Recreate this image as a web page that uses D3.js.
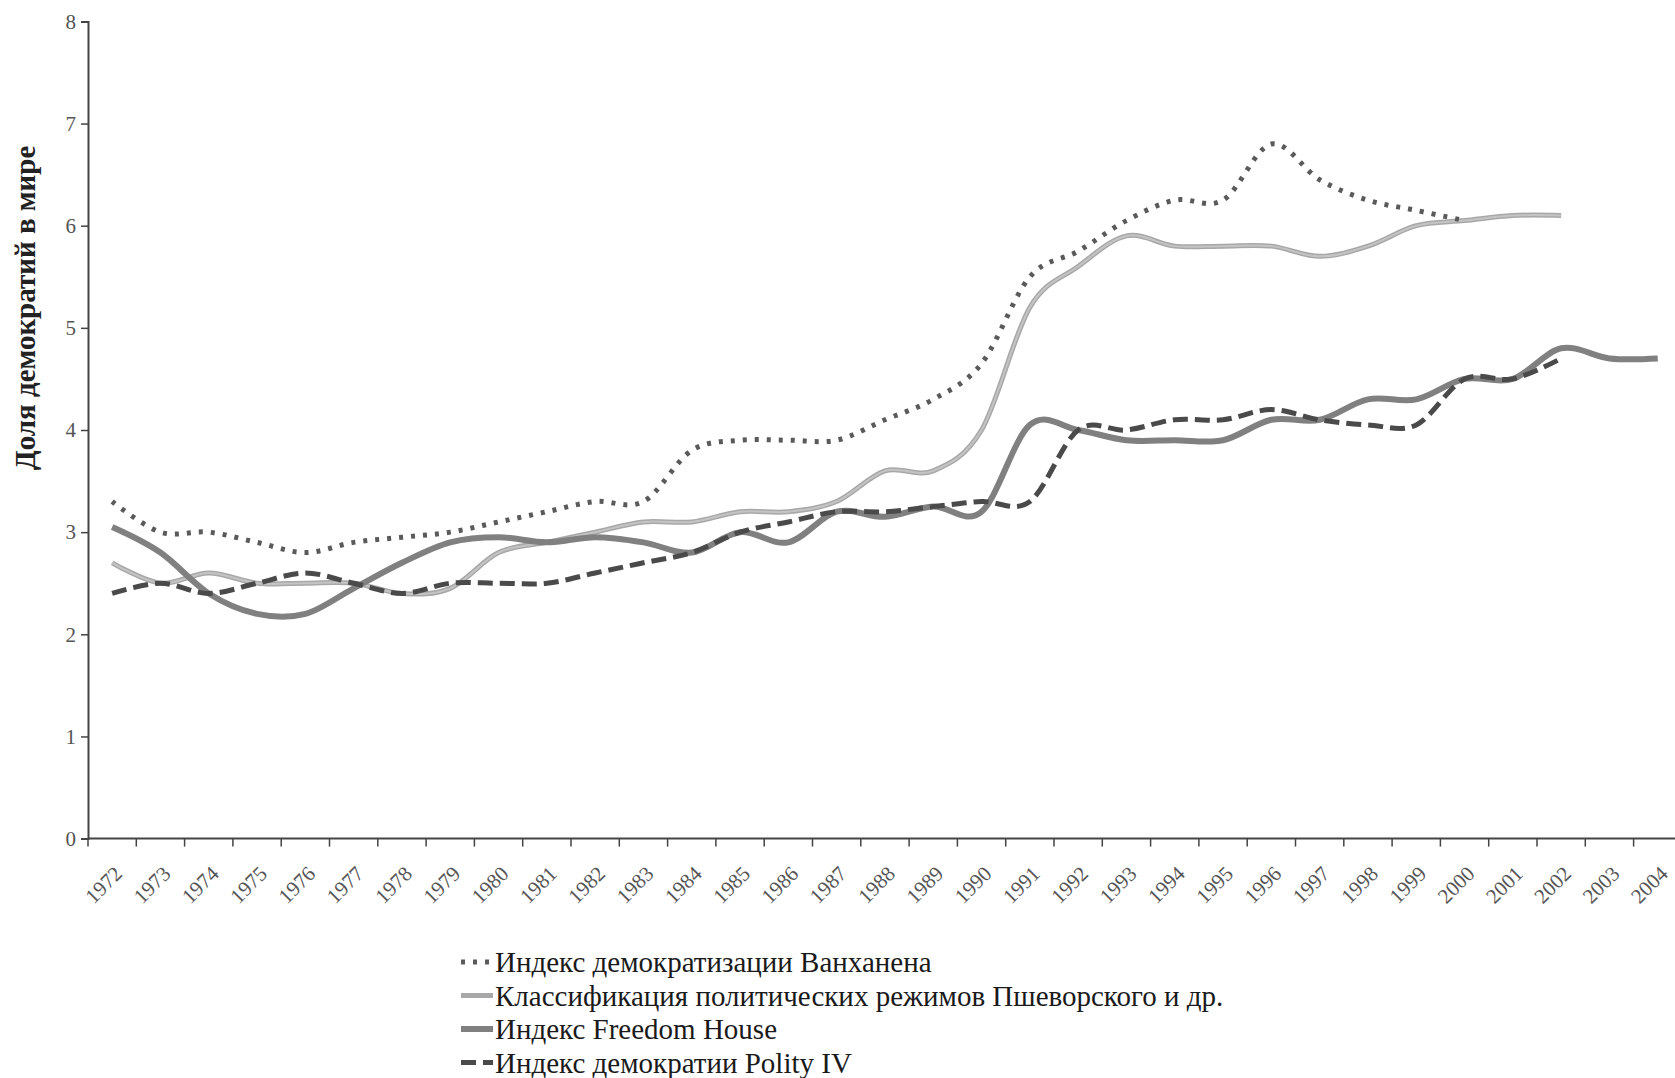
<!DOCTYPE html>
<html>
<head>
<meta charset="utf-8">
<script src="https://cdn.jsdelivr.net/npm/d3@7"></script>
<style>
  body { margin: 0; background: #fff; }
  text { font-family: "Liberation Serif", "DejaVu Serif", serif; }
</style>
</head>
<body>
<svg id="chart" width="1675" height="1078"></svg>
<script>
var years = d3.range(1972, 2005);

// values, one per year (null = no data)
var vanhanen = [3.3, 3.0, 3.0, 2.9, 2.8, 2.9, 2.95, 3.0, 3.1, 3.2, 3.3, 3.3, 3.8, 3.9, 3.9, 3.9,
                4.1, 4.3, 4.65, 5.5, 5.75, 6.05, 6.25, 6.25, 6.8, 6.45, 6.25, 6.15, 6.05];
var przeworski = [2.7, 2.5, 2.6, 2.5, 2.5, 2.5, 2.4, 2.45, 2.8, 2.9, 3.0, 3.1, 3.1, 3.2, 3.2, 3.3,
                  3.6, 3.6, 4.0, 5.2, 5.6, 5.9, 5.8, 5.8, 5.8, 5.7, 5.8, 6.0, 6.05, 6.1, 6.1];
var freedomHouse = [3.05, 2.8, 2.4, 2.2, 2.2, 2.45, 2.7, 2.9, 2.95, 2.9, 2.95, 2.9, 2.8, 3.0, 2.9, 3.2,
                    3.15, 3.25, 3.2, 4.05, 4.0, 3.9, 3.9, 3.9, 4.1, 4.1, 4.3, 4.3, 4.5, 4.5, 4.8, 4.7, 4.7];
var polity = [2.4, 2.5, 2.4, 2.5, 2.6, 2.5, 2.4, 2.5, 2.5, 2.5, 2.6, 2.7, 2.8, 3.0, 3.1, 3.2,
              3.2, 3.25, 3.3, 3.3, 4.0, 4.0, 4.1, 4.1, 4.2, 4.1, 4.05, 4.05, 4.5, 4.5, 4.7];

var yTicks = [0, 1, 2, 3, 4, 5, 6, 7, 8];
var yTitle = "Доля демократий в мире";

var series = [
  { name: "Индекс демократизации Ванханена", values: vanhanen, color: "#5a5a5a", width: 5, dash: "4,8" },
  { name: "Классификация политических режимов Пшеворского и др.", values: przeworski, color: "#a8a8a8", width: 5, dash: null, inner: "#c4c4c4" },
  { name: "Индекс Freedom House", values: freedomHouse, color: "#808080", width: 6, dash: null },
  { name: "Индекс демократии Polity IV", values: polity, color: "#4a4a4a", width: 5, dash: "15,7" }
];

var svg = d3.select("#chart");
svg.append("rect").attr("width", 1675).attr("height", 1078).attr("fill", "#fff");

var plotLeft = 88, plotBottom = 838.6, plotTop = 21.4;
var x = d3.scaleBand().domain(years).range([plotLeft, plotLeft + 33 * 48.3]);
var y = d3.scaleLinear().domain([0, 8]).range([plotBottom, plotTop]);

// y axis
var yAxis = svg.append("g")
    .attr("transform", "translate(" + plotLeft + ",0)")
    .call(d3.axisLeft(y).tickValues(yTicks).tickSize(7).tickPadding(5));
yAxis.select(".domain").attr("stroke", "#444").attr("stroke-width", 2);
yAxis.selectAll(".tick line").attr("stroke", "#444").attr("stroke-width", 1.5);
yAxis.selectAll(".tick text")
    .attr("fill", "#555")
    .style("font-size", "21px");

// x axis, ticks between categories
var xAxis = svg.append("g").attr("transform", "translate(0," + plotBottom + ")");
xAxis.append("line")
    .attr("x1", plotLeft).attr("x2", x.range()[1])
    .attr("stroke", "#444").attr("stroke-width", 2);
xAxis.selectAll(".tk")
    .data(years)
  .enter().append("line")
    .attr("class", "tk")
    .attr("x1", function(d) { return x(d); })
    .attr("x2", function(d) { return x(d); })
    .attr("y1", 0).attr("y2", 8)
    .attr("stroke", "#444").attr("stroke-width", 1.5);
xAxis.selectAll(".lbl")
    .data(years)
  .enter().append("text")
    .attr("class", "lbl")
    .attr("transform", function(d) {
      return "translate(" + (x(d) + x.bandwidth() / 2 + 1) + ",26) rotate(-45)";
    })
    .attr("text-anchor", "end")
    .attr("dy", "0.7em")
    .attr("fill", "#555")
    .style("font-size", "21px")
    .text(function(d) { return d; });

// y title
svg.append("text")
    .attr("transform", "translate(35,308) rotate(-90)")
    .attr("text-anchor", "middle")
    .style("font-size", "29px")
    .style("font-weight", "bold")
    .attr("fill", "#222")
    .text(yTitle);

// lines
var line = d3.line()
    .defined(function(d) { return d != null; })
    .x(function(d, i) { return x(years[i]) + x.bandwidth() / 2; })
    .y(function(d) { return y(d); })
    .curve(d3.curveCatmullRom.alpha(0));

var order = [1, 2, 3, 0];
order.forEach(function(k) {
  var s = series[k];
  svg.append("path")
      .datum(s.values)
      .attr("d", line)
      .attr("fill", "none")
      .attr("stroke", s.color)
      .attr("stroke-width", s.width)
      .attr("stroke-dasharray", s.dash)
      .attr("stroke-linejoin", "round");
  if (s.inner) {
    svg.append("path")
        .datum(s.values)
        .attr("d", line)
        .attr("fill", "none")
        .attr("stroke", s.inner)
        .attr("stroke-width", 2);
  }
});

// legend
var legend = svg.append("g").attr("transform", "translate(461,962)");
var rows = legend.selectAll("g")
    .data(series)
  .enter().append("g")
    .attr("transform", function(d, i) { return "translate(0," + (i * 33.5) + ")"; });
rows.append("line")
    .attr("x1", 0).attr("x2", 32)
    .attr("stroke", function(d) { return d.color; })
    .attr("stroke-width", function(d) { return d.width; })
    .attr("stroke-dasharray", function(d) { return d.dash; });
rows.append("text")
    .attr("x", 34)
    .attr("dy", "0.35em")
    .attr("fill", "#1a1a1a")
    .style("font-size", "29px")
    .text(function(d) { return d.name; });
</script>
</body>
</html>
